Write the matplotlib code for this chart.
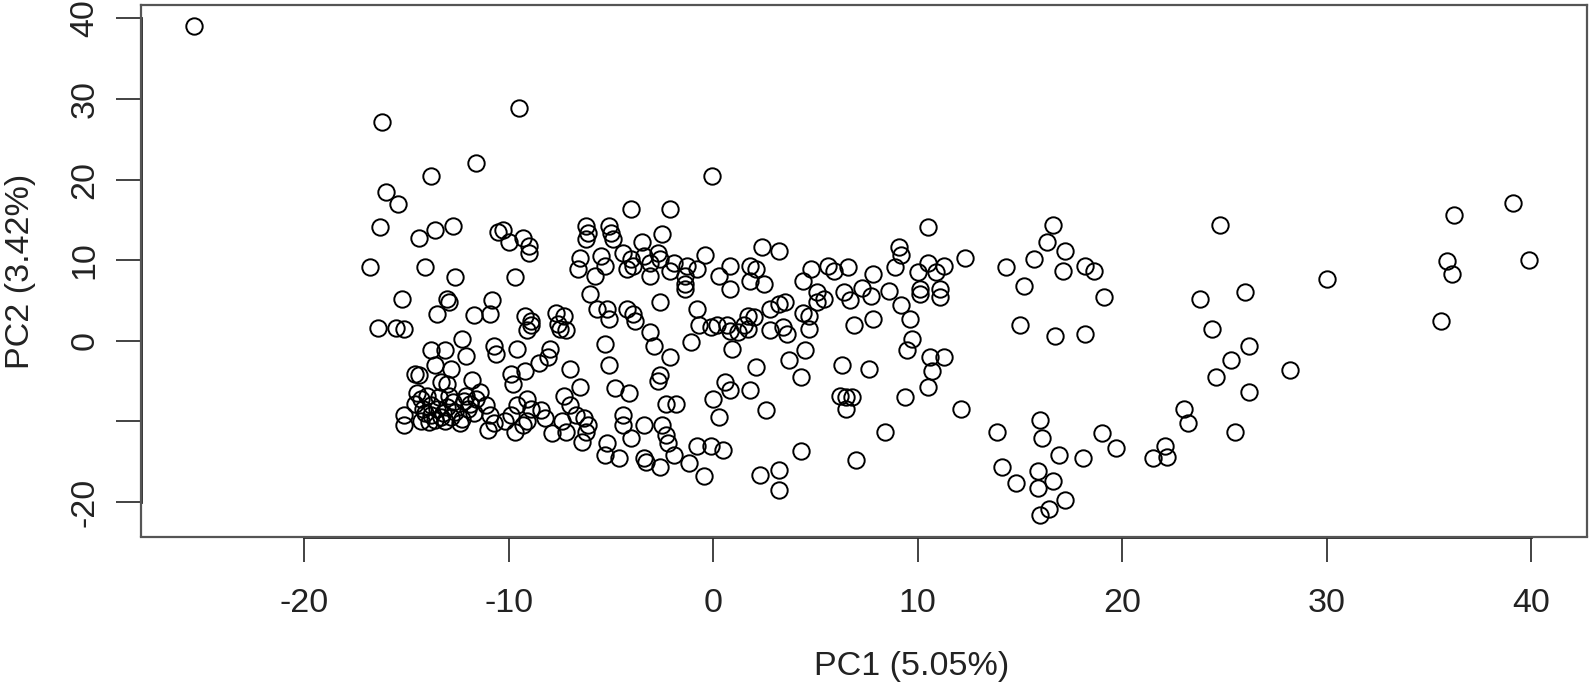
import matplotlib.pyplot as plt

plt.rcParams['font.family'] = ['Liberation Sans', 'DejaVu Sans']

# PCA scores
pc1 = [
    # upper left
    -25.4, -16.2, -11.6, -13.8, -16.0, -15.4, -16.3, -14.4, -13.6, -12.7, -10.5, -10.3, -10.0, -9.5,
    -16.8, -14.1, -12.6, -9.7,
    # left, middle band
    -15.2, -13.5, -13.0, -12.9, -11.7, -10.8, -10.9, -16.4, -15.5, -15.1, -12.3, -13.8, -13.1, -12.1,
    -10.7, -10.6, -13.6, -12.8, -14.6, -14.4, -13.3, -13.0, -11.8, -11.4, -15.1, -15.1, -14.3, -11.1,
    -10.9, -10.7, -11.0,
    # dense cluster
    -14.5, -14.3, -14.0, -14.6, -13.8, -13.5, -13.8, -13.2, -13.0, -12.8, -12.6, -12.3, -12.0, -12.2,
    -11.9, -13.4, -12.9, -13.1, -13.6, -12.4, -14.1, -13.9, -12.7, -11.7, -12.1, -13.3, -14.2, -11.6,
    # centre, upper
    -0.05, -4.0, -2.1, -2.5, 2.4, 3.2, -9.3, -9.0, -9.0, -6.2, -6.1, -6.2, -5.1, -5.0, -4.9, -3.5,
    -0.4, -6.5, -6.6, -5.5, -5.3, -4.4, -4.0, -3.9, -4.2, -3.4, -3.1, -2.7, -2.6, -1.9, -1.3, -0.8,
    0.8, 1.8, 2.1, 4.8, 5.6, 5.9, 6.6, 7.8,
    # centre, lower
    -5.8, -3.1, -2.1, -1.4, 0.3,
    -1.4, -1.4, 0.84, 1.8, 2.5, 4.4, 5.1, 5.4, 5.1, 6.4, 6.7, 7.3, 7.7, 6.9, 7.8, 7.6, 6.3, 6.2, 6.5,
    6.8, 6.5, 7.0, 4.3, 2.6, 1.8, 2.1, 3.7, 4.5, 4.3,
    2.8, 3.2, 3.5, 2.8, 3.4, 3.6, 4.4, 4.7, 4.7,
    1.7, 2.0, 1.5, 1.7, 1.2, 0.84, 0.7, 0.9,
    -0.8, -0.7, -0.1, 0.2, -1.1,
    -2.6, -2.1, -2.6, -2.7, -2.3, -1.8,
    0.0, 0.3, 0.6, 0.8,
    -0.8, -0.1, 0.5, -0.45,
    2.3, 3.2, 3.2,
    -3.4, -2.5, -2.3, -2.2, -1.9, -1.2, -2.6, -3.3, -3.4,
    -5.2, -5.3, -4.6,
    -4.4, -4.4, -4.0,
    -6.4,
    -4.8, -4.1,
    -5.1, -5.3, -7.0, -6.5,
    -7.3, -7.0, -6.7, -6.3, -6.1, -6.2, -7.2, -7.9, -7.4,
    -9.1, -9.6, -8.9, -8.4, -8.2, -9.9, -9.7, -10.2, -9.1, -9.3,
    -9.9, -9.8, -9.2, -8.5, -8.0, -8.1, -9.6,
    -9.2, -8.9, -9.1, -8.9,
    -7.7, -7.3, -7.6, -7.2, -7.5,
    -6.0, -5.7, -5.2, -5.1,
    -4.2, -3.9, -3.8,
    -3.1, -2.9,
    # right of centre, upper
    10.5, 16.6, 16.3, 17.2, 15.7, 17.1, 18.2, 18.6, 24.8, 14.3, 12.3, 9.1, 9.2, 8.9, 10.0, 10.5,
    10.9, 11.3,
    # right of centre, lower
    8.6, 10.1, 10.1, 11.1, 11.1, 15.2, 19.1, 23.8, 24.4, 25.3, 24.6, 25.5, 23.0, 23.2, 22.1, 21.5,
    22.2, 15.0, 16.7, 18.2, 9.2, 9.6, 9.7, 9.5, 10.6, 11.3, 10.7, 10.5, 9.4, 12.1, 8.4, 13.9,
    16.0, 16.1, 19.0, 19.7, 16.9, 18.1, 14.1, 14.8, 15.9, 15.9, 16.6, 17.2, 16.4, 16.0,
    # far right
    36.2, 39.1, 35.9, 36.1, 39.9, 30.0, 26.0, 35.6, 26.2, 28.2, 26.2,
]

pc2 = [
    39.1, 27.2, 22.1, 20.5, 18.4, 17.0, 14.1, 12.8, 13.8, 14.2, 13.5, 13.8, 12.2, 28.9,
    9.1, 9.1, 7.9, 7.9,
    5.2, 3.3, 5.2, 4.8, 3.2, 5.0, 3.3, 1.6, 1.6, 1.5, 0.2, -1.2, -1.1, -1.9,
    -0.6, -1.7, -3.0, -3.5, -4.1, -4.2, -5.1, -5.3, -4.9, -6.3, -9.2, -10.5, -10.0, -8.0,
    -9.2, -10.2, -11.1,
    -6.5, -7.2, -6.8, -7.8, -8.0, -8.5, -9.2, -9.0, -8.2, -9.5, -8.8, -9.7, -8.5, -7.5,
    -7.8, -7.0, -6.8, -10.0, -9.8, -10.2, -9.0, -10.1, -7.6, -9.0, -6.8, -9.4, -8.4, -7.2,
    20.5, 16.4, 16.4, 13.3, 11.6, 11.1, 12.8, 11.8, 10.9, 14.2, 13.4, 12.6, 14.2, 13.4, 12.6, 12.2,
    10.7, 10.3, 8.9, 10.5, 9.3, 10.9, 10.1, 9.3, 8.9, 10.5, 9.7, 10.9, 10.1, 9.7, 9.3, 8.9,
    9.3, 9.3, 8.9, 8.9, 9.3, 8.7, 9.1, 8.3,
    8.1, 8.1, 8.7, 8.1, 8.1,
    7.0, 6.4, 6.4, 7.4, 7.0, 7.4, 6.0, 5.2, 4.8, 6.0, 5.0, 6.6, 5.6, 1.9, 2.7, -3.5, -3.0, -6.8, -7.0,
    -7.0, -8.4, -14.8, -13.7, -8.6, -6.1, -3.2, -2.4, -1.2, -4.5,
    4.0, 4.6, 4.8, 1.3, 1.7, 0.9, 3.5, 3.1, 1.5,
    3.1, 2.9, 1.9, 1.5, 1.1, 1.2, 1.9, -1.0,
    4.0, 1.9, 1.7, 1.9, -0.2,
    4.8, -2.0, -4.3, -5.0, -7.8, -7.8,
    -7.2, -9.4, -5.1, -6.1,
    -13.1, -13.1, -13.5, -16.8,
    -16.6, -16.0, -18.5,
    -10.5, -10.5, -11.7, -12.7, -14.2, -15.2, -15.6, -15.0, -14.6,
    -12.7, -14.2, -14.6,
    -9.2, -10.5, -12.1,
    -12.5,
    -5.9, -6.5,
    -3.0, -0.4, -3.5, -5.7,
    -6.8, -8.0, -9.2, -9.6, -10.5, -11.3, -11.3, -11.5, -10.0,
    -7.2, -8.0, -8.4, -8.6, -9.6, -9.2, -11.3, -10.0, -10.0, -10.5,
    -4.1, -5.3, -3.7, -2.8, -1.0, -2.0, -1.0,
    3.1, 2.5, 1.3, 1.9,
    3.5, 3.1, 2.1, 1.3, 1.5,
    5.8, 4.0, 4.0, 2.7,
    4.0, 3.3, 2.5,
    1.1, -0.6,
    14.1, 14.4, 12.2, 11.1, 10.1, 8.7, 9.3, 8.6, 14.4, 9.1, 10.3, 11.6, 10.7, 9.1, 8.5, 9.7,
    8.5, 9.3,
    6.2, 6.4, 5.8, 6.4, 5.4, 6.8, 5.4, 5.2, 1.5, -2.4, -4.5, -11.3, -8.4, -10.2, -13.1, -14.6,
    -14.4, 1.9, 0.65, 0.9, 4.4, 2.7, 0.25, -1.2, -2.0, -2.0, -3.7, -5.7, -7.0, -8.4, -11.3, -11.3,
    -9.8, -12.1, -11.5, -13.3, -14.2, -14.6, -15.6, -17.7, -16.2, -18.3, -17.4, -19.7, -20.9, -21.6,
    15.6, 17.1, 9.9, 8.3, 10.0, 7.7, 6.0, 2.5, -0.6, -3.6, -6.3,
]

x_ticks = [-20, -10, 0, 10, 20, 30, 40]
y_ticks = [-20, -10, 0, 10, 20, 30, 40]
y_tick_labels = ['-20', '', '0', '10', '20', '30', '40']  # R drops the -10 label

W, H = 1594, 684
fig = plt.figure(figsize=(W / 100, H / 100), dpi=100)
left, right, top, bottom = 140.5, 1586.5, 5, 536.5
ax = fig.add_axes([left / W, 1 - bottom / H, (right - left) / W, (bottom - top) / H])

ax.plot(pc1, pc2, linestyle='none', marker='o', markersize=11.8,
        markerfacecolor='none', markeredgecolor='black', markeredgewidth=1.4)

ax.set_xlim(-28.0, 42.7)
ax.set_ylim(-24.28, 41.66)

for s in ax.spines.values():
    s.set_color('#555555')
    s.set_linewidth(1.6)

# R style axis lines running from first to last tick
ax.plot([x_ticks[0], x_ticks[-1]], [0, 0], transform=ax.get_xaxis_transform(),
        color='#222222', lw=2.0, clip_on=False)
ax.plot([0, 0], [y_ticks[0], y_ticks[-1]], transform=ax.get_yaxis_transform(),
        color='#222222', lw=2.0, clip_on=False)

ax.set_xticks(x_ticks)
ax.set_xticklabels([str(t) for t in x_ticks])
ax.set_yticks(y_ticks)
ax.set_yticklabels(y_tick_labels, rotation=90, va='center')
ax.tick_params(axis='both', length=18, width=1.2, color='#222222',
               labelsize=24.5, labelcolor='#222222')
ax.tick_params(axis='x', pad=19)
ax.tick_params(axis='y', pad=11)

fig.text(912 / W, 1 - 666 / H, 'PC1 (5.05%)', ha='center', va='center',
         fontsize=24.5, color='#222222')
fig.text(21 / W, 1 - 271 / H, 'PC2 (3.42%)', ha='center', va='center',
         rotation=90, fontsize=24.5, color='#222222')

fig.savefig('out.png', dpi=100, facecolor='white')
